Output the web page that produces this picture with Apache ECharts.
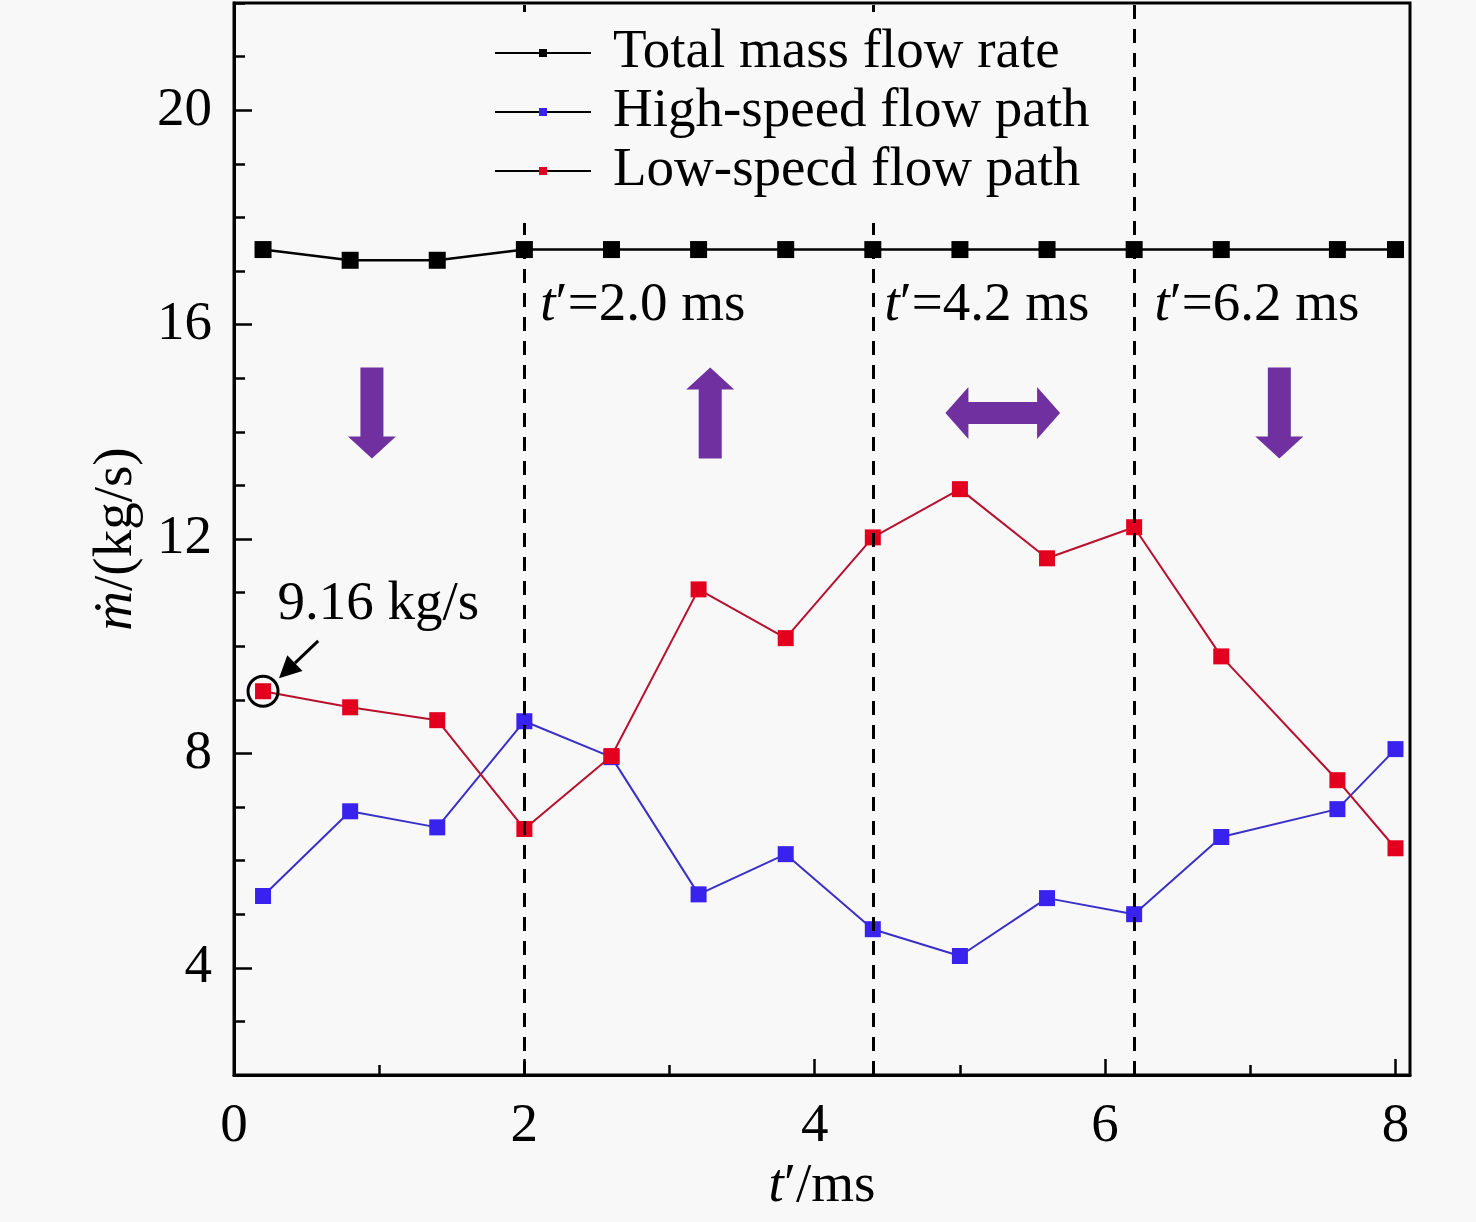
<!DOCTYPE html>
<html>
<head>
<meta charset="utf-8">
<script src="https://cdn.jsdelivr.net/npm/echarts@6/dist/echarts.min.js"></script>
<style>
  html, body { margin: 0; padding: 0; background: #f8f8f8; }
  #chart { width: 1476px; height: 1222px; }
</style>
</head>
<body>
<div id="chart"></div>
<script>
// time points (ms)
const tTimes = [0.2, 0.8, 1.4, 2.0, 2.6, 3.2, 3.8, 4.4, 5.0, 5.6, 6.2, 6.8, 7.6, 8.0];
// mass flow rate (kg/s)
const totalFlow = [17.4, 17.2, 17.2, 17.4, 17.4, 17.4, 17.4, 17.4, 17.4, 17.4, 17.4, 17.4, 17.4, 17.4];
const highFlow = [5.34, 6.92, 6.62, 8.6, 7.93, 5.37, 6.12, 4.72, 4.22, 5.3, 5.0, 6.44, 6.96, 8.08];
const lowFlow = [9.16, 8.86, 8.62, 6.59, 7.95, 11.06, 10.15, 12.03, 12.93, 11.64, 12.22, 9.81, 7.5, 6.23];

const seriesNames = ["Total mass flow rate", "High-speed flow path", "Low-specd flow path"];

const xTicks = [0, 2, 4, 6, 8];
const xMinorTicks = [1, 3, 5, 7];
const yTicks = [4, 8, 12, 16, 20];
const yMinorTicks = [2, 3, 5, 6, 7, 9, 10, 11, 13, 14, 15, 17, 18, 19, 21, 22];

// dashed split lines and their labels
const splitTimes = [2.0, 4.4, 6.2];
const splitLabels = ["2.0", "4.2", "6.2"];
const splitLabelX = [2.11, 4.48, 6.34];
const splitLabelY = 16.36;

// purple arrows: [x, yTop, yBottom] / [xLeft, xRight, y]
const downArrows = [[0.95, 15.2, 13.5], [7.2, 15.2, 13.5]];
const upArrows = [[3.28, 15.2, 13.5]];
const sideArrows = [[4.9, 5.69, 14.35]];

// start value annotation
const startPoint = [0.2, 9.16];
const startArrowTail = [0.58, 10.1];
const startArrowTip = [0.31, 9.4];
const startText = "9.16 kg/s";
const startTextPos = [0.3, 10.77];

const FONT = "Liberation Serif";
const FS = 55;

const chart = echarts.init(document.getElementById("chart"));

const makeData = (ys) => tTimes.map((t, i) => [t, ys[i]]);

const option = {
  backgroundColor: "#f8f8f8",
  animation: false,
  grid: {
    left: 234,
    right: 66,
    top: 3,
    bottom: 147,
    show: true,
    borderColor: "#000",
    borderWidth: 3,
    backgroundColor: "transparent",
  },
  legend: {
    orient: "vertical",
    left: 484,
    top: 12,
    z: 20,
    padding: [13, 10, 24, 10],
    backgroundColor: "#f8f8f8",
    itemWidth: 96,
    itemHeight: 10,
    itemGap: 3,
    data: seriesNames,
    lineStyle: { color: "#000", width: 2 },
    textStyle: {
      fontFamily: FONT,
      fontSize: FS,
      color: "#000",
      lineHeight: 56,
      padding: [0, 0, 0, 17],
    },
  },
  xAxis: [
    {
      type: "value",
      min: 0,
      max: 8.1,
      name: "{i|t}′/ms",
      nameLocation: "middle",
      nameGap: 80,
      nameTextStyle: {
        fontFamily: FONT,
        fontSize: FS,
        color: "#000",
        rich: { i: { fontFamily: FONT, fontSize: FS, fontStyle: "italic", color: "#000" } },
      },
      splitLine: { show: false },
      axisLine: { lineStyle: { color: "#000", width: 3 } },
      axisTick: { inside: true, length: 16, customValues: xTicks, lineStyle: { color: "#000", width: 2.5 } },
      axisLabel: { customValues: xTicks, margin: 24, fontFamily: FONT, fontSize: FS, color: "#000" },
    },
    {
      type: "value",
      min: 0,
      max: 8.1,
      position: "bottom",
      splitLine: { show: false },
      axisLine: { show: false },
      axisLabel: { show: false },
      axisTick: { inside: true, length: 10, customValues: xMinorTicks, lineStyle: { color: "#000", width: 2.5 } },
    },
  ],
  yAxis: [
    {
      type: "value",
      min: 2,
      max: 22,
      position: "left",
      name: "{i|ṁ}/(kg/s)",
      nameLocation: "middle",
      nameGap: 90,
      nameTextStyle: {
        fontFamily: FONT,
        fontSize: FS,
        color: "#000",
        rich: { i: { fontFamily: FONT, fontSize: FS, fontStyle: "italic", color: "#000" } },
      },
      splitLine: { show: false },
      axisLine: { lineStyle: { color: "#000", width: 3 } },
      axisTick: { inside: true, length: 18, customValues: yTicks, lineStyle: { color: "#000", width: 2.5 } },
      axisLabel: { customValues: yTicks, margin: 22, fontFamily: FONT, fontSize: FS, color: "#000" },
    },
    {
      type: "value",
      min: 2,
      max: 22,
      position: "left",
      splitLine: { show: false },
      axisLine: { show: false },
      axisLabel: { show: false },
      axisTick: { inside: true, length: 11, customValues: yMinorTicks, lineStyle: { color: "#000", width: 2.5 } },
    },
  ],
  series: [
    {
      name: seriesNames[0],
      type: "line",
      data: makeData(totalFlow),
      symbol: "rect",
      symbolSize: 17,
      itemStyle: { color: "#000" },
      lineStyle: { color: "#000", width: 2.5 },
      markLine: {
        silent: true,
        symbol: ["none", "none"],
        label: { show: false },
        lineStyle: { color: "#000", width: 3, type: [14, 10] },
        data: splitTimes.map((t) => ({ xAxis: t })),
      },
    },
    {
      name: seriesNames[1],
      type: "line",
      data: makeData(highFlow),
      symbol: "rect",
      symbolSize: 16,
      itemStyle: { color: "#3a22ee" },
      lineStyle: { color: "#3a30c8", width: 2 },
    },
    {
      name: seriesNames[2],
      type: "line",
      data: makeData(lowFlow),
      symbol: "rect",
      symbolSize: 16,
      itemStyle: { color: "#e2001e" },
      lineStyle: { color: "#b8102e", width: 2 },
      markPoint: {
        silent: true,
        symbol: "circle",
        symbolSize: 30,
        label: { show: false },
        itemStyle: { color: "rgba(0,0,0,0)", borderColor: "#000", borderWidth: 3 },
        data: [{ coord: startPoint }],
      },
    },
  ],
};

chart.setOption(option);

// annotations placed from data coordinates
const px = (p) => chart.convertToPixel({ gridIndex: 0 }, p);
const PURPLE = "#7030a0";
const graphics = [];

const vArrow = (x, yTop, yBot, down) => {
  const a = px([x, yTop]);
  const b = px([x, yBot]);
  const sw = 11.5, hw = 24, hl = 22;
  let pts;
  if (down) {
    pts = [
      [a[0] - sw, a[1]], [a[0] + sw, a[1]], [a[0] + sw, b[1] - hl], [a[0] + hw, b[1] - hl],
      [a[0], b[1]], [a[0] - hw, b[1] - hl], [a[0] - sw, b[1] - hl],
    ];
  } else {
    pts = [
      [a[0], a[1]], [a[0] + hw, a[1] + hl], [a[0] + sw, a[1] + hl], [a[0] + sw, b[1]],
      [a[0] - sw, b[1]], [a[0] - sw, a[1] + hl], [a[0] - hw, a[1] + hl],
    ];
  }
  graphics.push({ type: "polygon", shape: { points: pts }, style: { fill: PURPLE }, z: 10 });
};

downArrows.forEach((d) => vArrow(d[0], d[1], d[2], true));
upArrows.forEach((d) => vArrow(d[0], d[1], d[2], false));

sideArrows.forEach((d) => {
  const l = px([d[0], d[2]]);
  const r = px([d[1], d[2]]);
  const sw = 11, hw = 26, hl = 23;
  const y = l[1];
  const pts = [
    [l[0], y], [l[0] + hl, y - hw], [l[0] + hl, y - sw], [r[0] - hl, y - sw], [r[0] - hl, y - hw],
    [r[0], y], [r[0] - hl, y + hw], [r[0] - hl, y + sw], [l[0] + hl, y + sw], [l[0] + hl, y + hw],
  ];
  graphics.push({ type: "polygon", shape: { points: pts }, style: { fill: PURPLE }, z: 10 });
});

// split labels
splitTimes.forEach((t, i) => {
  const p = px([splitLabelX[i], splitLabelY]);
  graphics.push({
    type: "text",
    x: p[0],
    y: p[1],
    z: 10,
    style: {
      text: "{i|t}′=" + splitLabels[i] + " ms",
      fontFamily: FONT,
      fontSize: FS,
      fill: "#000",
      verticalAlign: "middle",
      align: "left",
      rich: { i: { fontFamily: FONT, fontSize: FS, fontStyle: "italic", fill: "#000" } },
    },
  });
});

// start value arrow + text
const tail = px(startArrowTail);
const tip = px(startArrowTip);
const ang = Math.atan2(tip[1] - tail[1], tip[0] - tail[0]);
const headL = 22, headW = 11;
const base = [tip[0] - headL * Math.cos(ang), tip[1] - headL * Math.sin(ang)];
graphics.push({
  type: "line",
  shape: { x1: tail[0], y1: tail[1], x2: base[0], y2: base[1] },
  style: { stroke: "#000", lineWidth: 3 },
  z: 10,
});
graphics.push({
  type: "polygon",
  shape: {
    points: [
      tip,
      [base[0] + headW * Math.sin(ang), base[1] - headW * Math.cos(ang)],
      [base[0] - headW * Math.sin(ang), base[1] + headW * Math.cos(ang)],
    ],
  },
  style: { fill: "#000" },
  z: 10,
});
const tp = px(startTextPos);
graphics.push({
  type: "text",
  x: tp[0],
  y: tp[1],
  z: 10,
  style: { text: startText, fontFamily: FONT, fontSize: FS, fill: "#000", verticalAlign: "middle", align: "left" },
});

chart.setOption({ graphic: graphics });
</script>
</body>
</html>
